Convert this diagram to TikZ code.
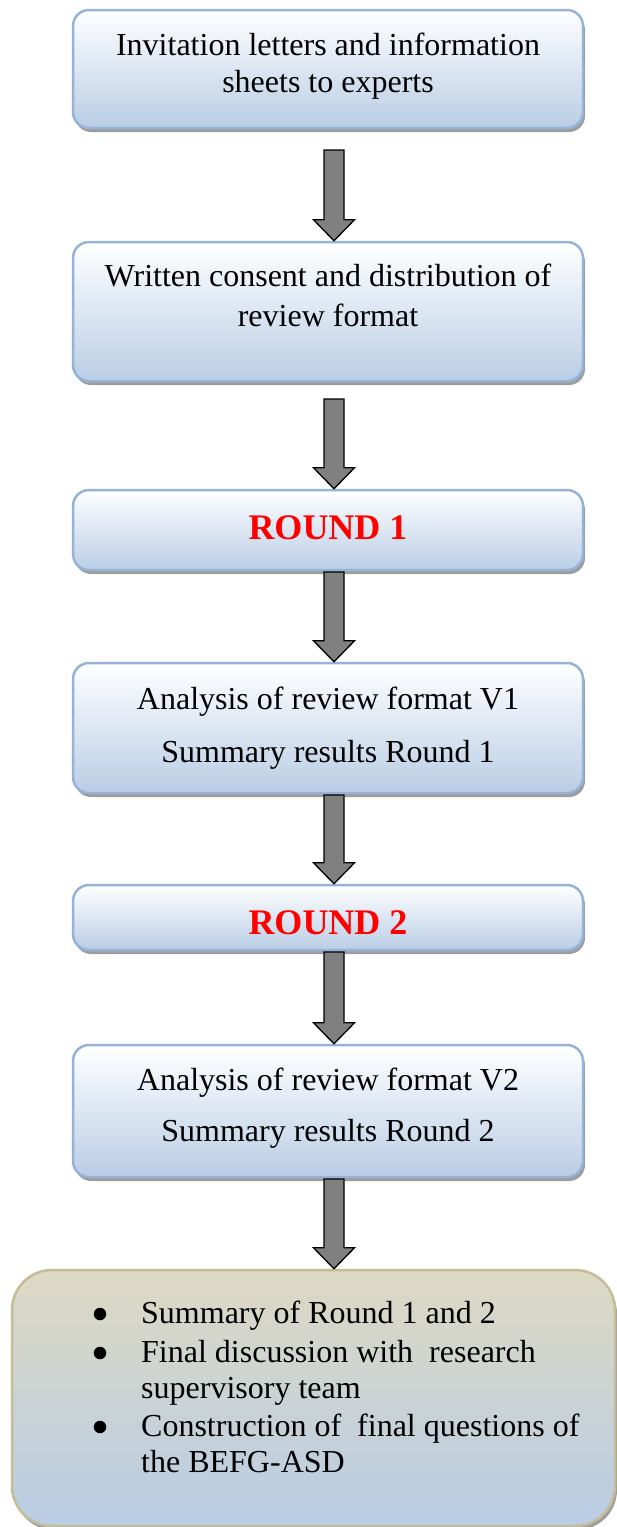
\documentclass[tikz,border=0pt]{standalone}
\usepackage{fontspec}
\setmainfont{Liberation Serif}
\usetikzlibrary{calc,shadows}

\definecolor{boxbot}{HTML}{B9CDE5}
\definecolor{boxline}{HTML}{95B3D7}
\definecolor{tantop}{HTML}{DDD9C3}
\definecolor{tanline}{HTML}{C4BD97}
\definecolor{arrowgray}{HTML}{808080}
\definecolor{roundred}{HTML}{FF0000}

% thick block arrow from a start coordinate down to the top of a box
\newcommand{\flowarrow}[2]{%
  \draw[flowarr] let \p1=(#1), \p2=(#2.north) in
    (\x1-10pt,\y1) -- (\x1+10pt,\y1) -- (\x1+10pt,\y2+21pt)
    -- (\x1+20.5pt,\y2+21pt) -- (\x1,\y2) -- (\x1-20.5pt,\y2+21pt)
    -- (\x1-10pt,\y2+21pt) -- cycle;}

\begin{document}
\begin{tikzpicture}[x=1pt,y=-1pt,
  stepbox/.style={rectangle, rounded corners=16pt, draw=boxline,
    line width=2.5pt, top color=white, bottom color=boxbot,
    minimum width=510pt, inner sep=0pt,
    drop shadow={shadow xshift=2pt, shadow yshift=-4pt,
      opacity=0.45, fill=black!85}},
  finalbox/.style={rectangle, rounded corners=40pt, draw=tanline,
    line width=2.5pt, top color=tantop, bottom color=boxbot,
    inner sep=0pt,
    drop shadow={shadow xshift=2pt, shadow yshift=-4pt,
      opacity=0.45, fill=black!85}},
  flowarr/.style={draw=black, line width=1.3pt, fill=arrowgray,
    line join=miter},
  txt/.style={anchor=base, inner sep=0pt,
    font=\fontsize{32}{37}\selectfont},
  roundtxt/.style={anchor=base, inner sep=0pt, text=roundred,
    font=\fontsize{36}{40}\selectfont\bfseries},
  bul/.style={circle, fill=black, inner sep=0pt, minimum size=12.5pt},
]
\useasboundingbox (0,0) rectangle (617,1527);

% process boxes
\node[stepbox, minimum height=118pt] (b1) at (328,69) {};
\node[stepbox, minimum height=139pt] (b2) at (328,311.5) {};
\node[stepbox, minimum height=80pt]  (b3) at (328,530) {};
\node[stepbox, minimum height=130pt] (b4) at (328,728) {};
\node[stepbox, minimum height=65pt]  (b5) at (328,917.5) {};
\node[stepbox, minimum height=132pt] (b6) at (328,1111) {};
\node[finalbox, minimum width=603pt, minimum height=256pt] (b7) at (313.5,1398) {};

% box texts
\node[txt] (t1a) at (328,55) {Invitation letters and information};
\node[txt] (t1b) at (328,92) {sheets to experts};
\node[txt] (t2a) at (328,286) {Written consent and distribution of};
\node[txt] (t2b) at (328,326) {review format};
\node[roundtxt] (t3) at (328,539) {ROUND 1};
\node[txt] (t4a) at (328,709) {Analysis of review format V1};
\node[txt] (t4b) at (328,762) {Summary results Round 1};
\node[roundtxt] (t5) at (328,934) {ROUND 2};
\node[txt] (t6a) at (328,1090) {Analysis of review format V2};
\node[txt] (t6b) at (328,1141) {Summary results Round 2};

% bulleted list in the last box
\node[bul] (d1) at (100,1314) {};
\node[bul] (d2) at (100,1353) {};
\node[bul] (d3) at (100,1427) {};
\node[txt, anchor=base west] (l1) at (141,1323) {Summary of Round 1 and 2};
\node[txt, anchor=base west] (l2) at (141,1362) {Final discussion with\ \ research};
\node[txt, anchor=base west] (l3) at (141,1398) {supervisory team};
\node[txt, anchor=base west] (l4) at (141,1436) {Construction of\ \ final questions of};
\node[txt, anchor=base west] (l5) at (141,1472) {the BEFG-ASD};

% arrow start points
\coordinate (s1) at (334,150);
\coordinate (s2) at (334,399);
\coordinate (s3) at (334,572);
\coordinate (s4) at (334,795);
\coordinate (s5) at (334,952);
\coordinate (s6) at (334,1179);

% connectors
\flowarrow{s1}{b2}
\flowarrow{s2}{b3}
\flowarrow{s3}{b4}
\flowarrow{s4}{b5}
\flowarrow{s5}{b6}
\flowarrow{s6}{b7}
\end{tikzpicture}
\end{document}
